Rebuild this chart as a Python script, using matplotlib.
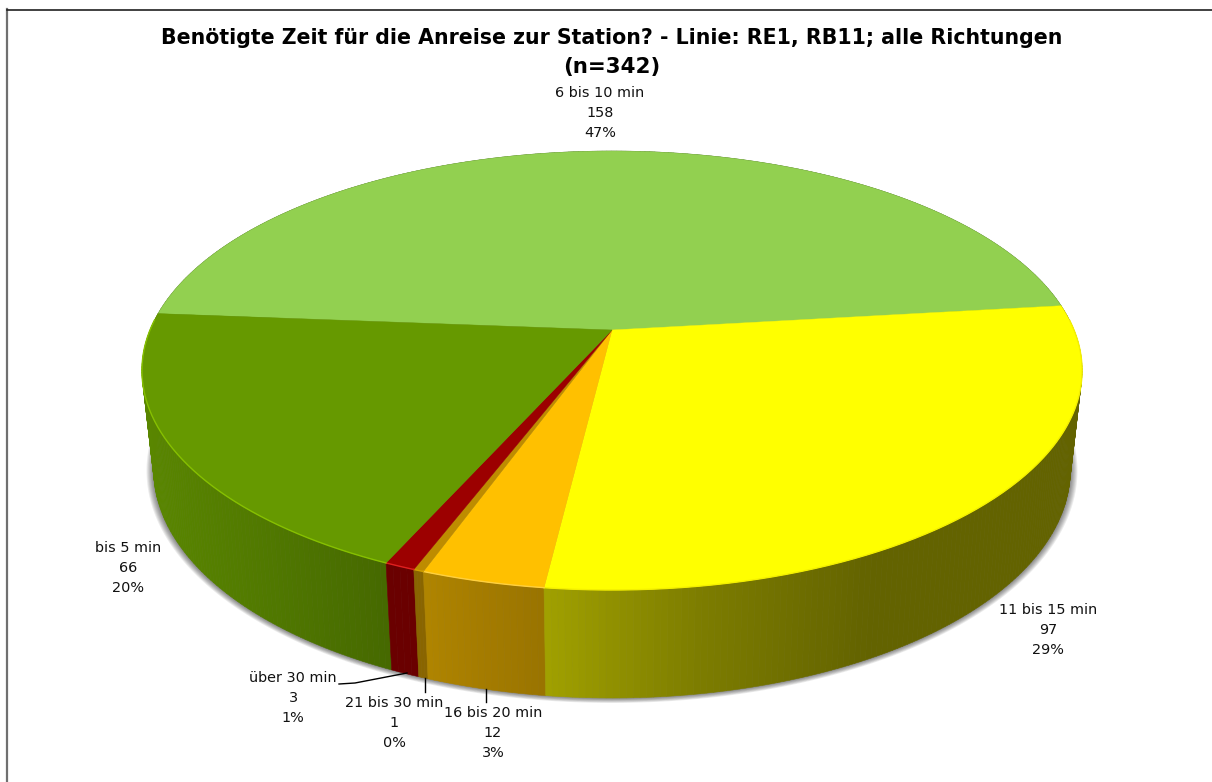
import numpy as np
import matplotlib
matplotlib.use("Agg")
import matplotlib.pyplot as plt
from matplotlib.patches import Polygon
from matplotlib.lines import Line2D

title_lines = ["Benötigte Zeit für die Anreise zur Station? - Linie: RE1, RB11; alle Richtungen", "(n=342)"]
categories = ["6 bis 10 min", "11 bis 15 min", "16 bis 20 min", "21 bis 30 min", "über 30 min", "bis 5 min"]
counts = [158, 97, 12, 1, 3, 66]
percents = ["47%", "29%", "3%", "0%", "1%", "20%"]
colors = ["#92D050", "#FFFF00", "#FFC000", "#BE8C00", "#9C0000", "#669900"]
rims = ["#92D050", "#F4F000", "#FFD040", "#D0A000", "#E02020", "#86C000"]
# wall brightness: (screen-x anchors, factors)
shade_x = [[0, 1212], [545, 620, 700, 800, 870, 1080], [420, 545], [415, 430], [385, 420], [140, 250, 390]]
shade_f = [[.5, .5], [.63, .56, .49, .43, .39, .39], [.69, .60], [.72, .72], [.68, .68], [.88, .80, .68]]
label_xy = [(600, 113), (1048, 630), (493, 733), (394, 723), (293, 698), (128, 568)]

CX, CY = 612.0, 330.0
A, B, K = 462.0, 212.0, 0.1845
START = 175.5
WALL_SX, WALL_SY = 0.975, 1.039
BOTTOM = 698.0


def project(theta, sx=1.0, sy=1.0, cy=CY):
    x, y = np.cos(theta), np.sin(theta)
    w = 1 + K * y
    return CX + sx * A * x / w, cy - sy * B * y / w


CY2 = BOTTOM - WALL_SY * B / (1 - K)

fig = plt.figure(figsize=(12.12, 7.82), dpi=100, facecolor="white")
ax = fig.add_axes([0, 0, 1, 1])
ax.set_xlim(0, 1212)
ax.set_ylim(782, 0)
ax.axis("off")

ax.add_line(Line2D([7, 7], [9, 782], color="#707070", lw=1.6))
ax.add_line(Line2D([7, 1212], [9.5, 9.5], color="#202020", lw=1.2))

# soft shadow below the pie
full = np.linspace(0, 2 * np.pi, 361)
for d in range(7, 0, -1):
    gx, gy = project(full, sx=WALL_SX + d / 460, sy=WALL_SY + 0.6 * d / 220, cy=CY2)
    ax.add_patch(Polygon(np.c_[gx, gy], closed=True, fc="black", ec="none", alpha=0.08, zorder=1))

fractions = np.array(counts, dtype=float) / np.sum(counts) * 2 * np.pi
ends = np.radians(START) - np.cumsum(fractions)
starts = ends + fractions

# side walls
strips = []
for s, e, col, xs, fs in zip(starts, ends, colors, shade_x, shade_f):
    n = max(3, int(np.degrees(s - e) / 0.7))
    t = np.linspace(s, e, n + 1)
    base = np.array(matplotlib.colors.to_rgb(col))
    tx, ty = project(t)
    bx, by = project(t, sx=WALL_SX, sy=WALL_SY, cy=CY2)
    for j in range(n):
        mid = (tx[j] + tx[j + 1]) / 2
        c = base * np.interp(mid, xs, fs)
        strips.append((np.sin(t[j]), [(tx[j], ty[j]), (tx[j + 1], ty[j + 1]), (bx[j + 1], by[j + 1]), (bx[j], by[j])], c))
for _, pts, c in sorted(strips, key=lambda q: -q[0]):
    ax.add_patch(Polygon(pts, closed=True, fc=c, ec=c, lw=0.4, zorder=2))

# top faces
for s, e, col, rim in zip(starts, ends, colors, rims):
    t = np.linspace(s, e, 200)
    x, y = project(t)
    ax.add_patch(Polygon(np.r_[[[CX, CY]], np.c_[x, y]], closed=True, fc=col, ec=col, lw=0.3, zorder=3))
    front = np.sin(t) < 0.05
    if front.any():
        ax.add_line(Line2D(x[front], y[front], color=rim, lw=1.0, zorder=4))

# labels and leader lines
for cat, n, p, (lx, ly) in zip(categories, counts, percents, label_xy):
    ax.text(lx, ly, f"{cat}\n{n}\n{p}", ha="center", va="center", fontsize=10.4, family="DejaVu Sans",
            color="#111111", linespacing=1.55, zorder=6)
ax.text(612, 38, title_lines[0], ha="center", va="center", fontsize=14.8, fontweight="bold",
        family="DejaVu Sans", color="black", zorder=6)
ax.text(612, 67, title_lines[1], ha="center", va="center", fontsize=15.4, fontweight="bold",
        family="DejaVu Sans", color="black", zorder=6)

ax.add_line(Line2D([339, 355, 407], [684, 683, 673], color="black", lw=1, zorder=5))
ax.add_line(Line2D([425, 425], [678, 692], color="black", lw=1, zorder=5))
ax.add_line(Line2D([486, 486], [689, 702], color="black", lw=1, zorder=5))

fig.savefig("out.png", dpi=100, facecolor="white")
